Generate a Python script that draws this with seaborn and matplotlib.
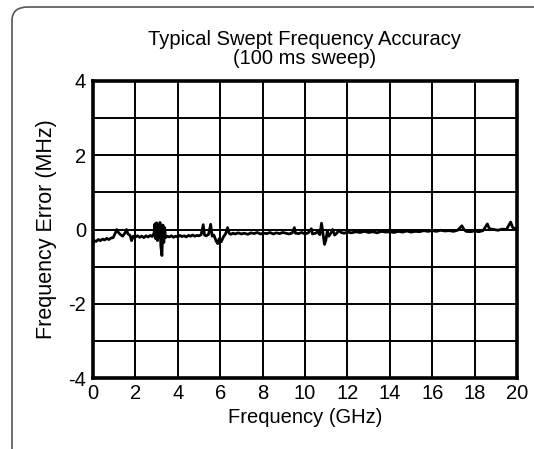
import matplotlib
matplotlib.use("Agg")
import matplotlib.pyplot as plt
import seaborn as sns
import pandas as pd
from matplotlib.patches import FancyBboxPatch
from matplotlib.ticker import MultipleLocator

# Frequency (GHz) and error (MHz)
freq_ghz = [
    0.00, 0.05, 0.15, 0.25, 0.35, 0.45, 0.55, 0.65, 0.75, 0.85,
    0.95, 1.05, 1.12, 1.20, 1.30, 1.40, 1.50, 1.58, 1.65, 1.75,
    1.82, 1.90, 2.00, 2.10, 2.20, 2.30, 2.40, 2.50, 2.60, 2.70,
    2.80, 2.88, 2.92, 2.96, 3.00, 3.04, 3.08, 3.12, 3.16, 3.20,
    3.25, 3.30, 3.34, 3.38, 3.42, 3.50, 3.60, 3.70, 3.80, 3.90,
    4.00, 4.10, 4.20, 4.30, 4.40, 4.50, 4.60, 4.70, 4.80, 4.90,
    5.00, 5.10, 5.20, 5.26, 5.35, 5.45, 5.55, 5.62, 5.70, 5.80,
    5.88, 5.95, 6.05, 6.15, 6.25, 6.35, 6.42, 6.50, 6.60, 6.70,
    6.85, 7.00, 7.15, 7.30, 7.45, 7.60, 7.75, 7.90, 8.05, 8.20,
    8.35, 8.50, 8.65, 8.80, 8.95, 9.10, 9.25, 9.40, 9.50, 9.55,
    9.70, 9.85, 10.00, 10.15, 10.30, 10.35, 10.50, 10.60, 10.70, 10.78,
    10.85, 10.92, 10.98, 11.05, 11.12, 11.20, 11.30, 11.40, 11.50, 11.60,
    11.70, 11.85, 12.00, 12.20, 12.40, 12.60, 12.80, 13.00, 13.20, 13.40,
    13.60, 13.80, 14.00, 14.20, 14.40, 14.60, 14.80, 15.00, 15.20, 15.40,
    15.60, 15.80, 16.00, 16.20, 16.40, 16.60, 16.80, 17.00, 17.20, 17.40,
    17.50, 17.60, 17.80, 18.00, 18.20, 18.40, 18.60, 18.70, 18.90, 19.10,
    19.30, 19.50, 19.70, 19.80, 20.00,
]
error_mhz = [
    -0.38, -0.30, -0.32, -0.27, -0.30, -0.26, -0.28, -0.24, -0.27, -0.23,
    -0.22, -0.10, 0.00, -0.08, -0.14, -0.18, -0.10, 0.00, -0.12, -0.16,
    -0.30, -0.18, -0.20, -0.17, -0.21, -0.18, -0.22, -0.17, -0.20, -0.16,
    -0.19, -0.10, 0.15, -0.25, 0.18, -0.30, 0.10, -0.20, 0.19, -0.45,
    -0.70, 0.12, -0.35, 0.05, -0.22, -0.18, -0.20, -0.17, -0.21, -0.18,
    -0.20, -0.16, -0.19, -0.17, -0.20, -0.16, -0.18, -0.15, -0.18, -0.16,
    -0.17, -0.14, 0.13, -0.15, -0.17, -0.13, 0.14, -0.18, -0.15, -0.30,
    -0.38, -0.25, -0.33, -0.20, -0.12, 0.05, -0.10, -0.13, -0.10, -0.12,
    -0.09, -0.12, -0.10, -0.13, -0.09, -0.11, -0.08, -0.12, -0.10, -0.11,
    -0.08, -0.12, -0.09, -0.11, -0.08, -0.10, -0.12, -0.09, 0.05, -0.10,
    -0.11, -0.08, -0.12, -0.09, 0.02, -0.12, -0.10, -0.06, -0.14, 0.17,
    -0.12, -0.40, -0.30, -0.05, -0.18, -0.12, 0.00, -0.15, -0.10, -0.02,
    -0.08, -0.10, -0.07, -0.09, -0.06, -0.08, -0.05, -0.08, -0.06, -0.09,
    -0.05, -0.07, -0.06, -0.08, -0.05, -0.07, -0.04, -0.07, -0.05, -0.06,
    -0.03, -0.05, -0.03, -0.05, -0.02, -0.04, -0.03, -0.05, -0.02, 0.10,
    0.00, -0.05, -0.06, -0.04, -0.06, -0.03, 0.15, 0.02, 0.00, -0.02,
    0.01, 0.00, 0.20, 0.05, 0.00,
]

df = pd.DataFrame({"Frequency (GHz)": freq_ghz, "Frequency Error (MHz)": error_mhz})

sns.set_theme(style="white")
plt.rcParams["font.family"] = ["Liberation Sans", "DejaVu Sans"]
plt.rcParams["axes.unicode_minus"] = False

fig = plt.figure(figsize=(5.34, 4.49), dpi=100)
ax = fig.add_axes([93 / 534, 1 - 378 / 449, 424 / 534, 297 / 449])

sns.lineplot(data=df, x="Frequency (GHz)", y="Frequency Error (MHz)",
             color="black", linewidth=2.0, sort=False, estimator=None, ax=ax)

ax.set_xlim(0, 20)
ax.set_ylim(-4, 4)
ax.xaxis.set_major_locator(MultipleLocator(2))
ax.yaxis.set_major_locator(MultipleLocator(2))
ax.yaxis.set_minor_locator(MultipleLocator(1))
ax.grid(True, which="both", color="black", linewidth=1.4)
ax.tick_params(axis="both", which="both", length=0, labelsize=14.5, colors="black")
ax.tick_params(axis="y", pad=5)
ax.tick_params(axis="x", pad=4)
for s in ax.spines.values():
    s.set_color("black")
    s.set_linewidth(2.6)
    s.set_visible(True)

ax.set_xlabel("Frequency (GHz)", fontsize=14.5, color="black", labelpad=4)
ax.set_ylabel("Frequency Error (MHz)", fontsize=15.5, color="black", labelpad=8)
ax.set_title("Typical Swept Frequency Accuracy\n(100 ms sweep)", fontsize=14.5,
             color="black", linespacing=1.0, pad=12)

# rounded frame around the figure
frame = FancyBboxPatch((12 / 534, -0.2), 1.2, 1.2 - 7 / 449,
                       boxstyle="round,pad=0,rounding_size=0.03",
                       transform=fig.transFigure, fill=False,
                       edgecolor="#555555", linewidth=1.2, clip_on=False)
fig.patches.append(frame)

fig.savefig("out.png", dpi=100, facecolor="white")
